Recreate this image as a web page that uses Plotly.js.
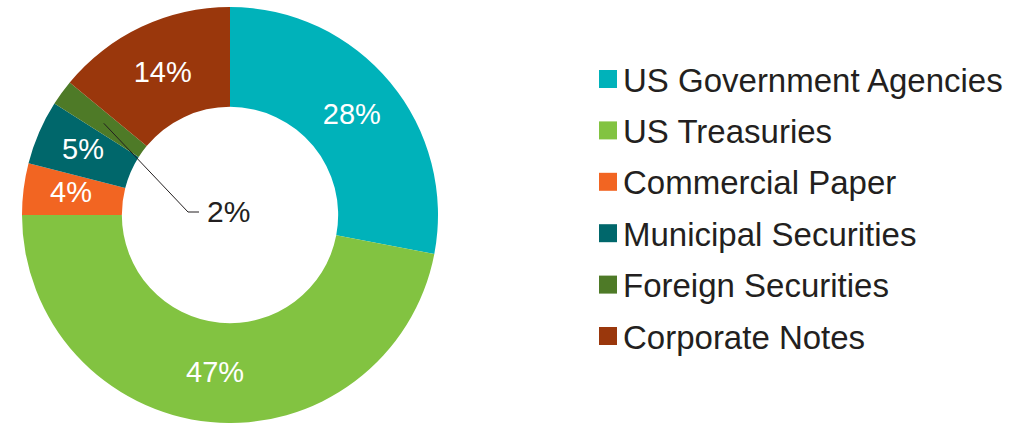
<!DOCTYPE html>
<html>
<head>
<meta charset="utf-8">
<script src="https://cdn.plot.ly/plotly-3.0.1.min.js"></script>
<style>
  html, body { margin: 0; padding: 0; background: #ffffff; }
  #chart { width: 1036px; height: 423px; }
</style>
</head>
<body>
<div id="chart"></div>
<script>
// ---- Data ----
const categories = ["US Government Agencies", "US Treasuries", "Commercial Paper", "Municipal Securities", "Foreign Securities", "Corporate Notes"];
const shares = [28, 47, 4, 5, 2, 14];
const sliceColors = ["#00B2BA", "#82C341", "#F26522", "#00676B", "#4E7A27", "#9A370C"];
const outsideLabelCategory = "Foreign Securities";
const narrowLabelCategories = ["Commercial Paper", "Municipal Securities"];

// ---- Geometry helpers (layout only) ----
const W = 1036, H = 423;
const cx = 230, cy = 215, R = 208, HOLE = 0.52;
const px = x => x / W;
const py = y => 1 - y / H;
const FONT = "Liberation Sans, Arial, sans-serif";

const total = shares.reduce((a, b) => a + b, 0);
function midAngle(i) {
  const before = shares.slice(0, i).reduce((a, b) => a + b, 0);
  return (before + shares[i] / 2) / total * 2 * Math.PI;
}

const sliceText = shares.map((v, i) =>
  (categories[i] === outsideLabelCategory || narrowLabelCategories.includes(categories[i])) ? "" : v + "%");

const trace = {
  type: "pie",
  labels: categories,
  values: shares,
  text: sliceText,
  textinfo: "text",
  textposition: "inside",
  insidetextorientation: "horizontal",
  insidetextfont: { family: FONT, size: 29, color: "#ffffff" },
  hole: HOLE,
  sort: false,
  direction: "clockwise",
  rotation: 0,
  marker: { colors: sliceColors, line: { width: 0 } },
  showlegend: false,
  hoverinfo: "label+value",
  domain: { x: [px(cx - R), px(cx + R)], y: [py(cy + R), py(cy - R)] }
};

const shapes = [];
const annotations = [];

// Labels of narrow slices, placed at the slice mid-angle on the ring's mid-radius
const rMid = (R + HOLE * R) / 2;
narrowLabelCategories.forEach(c => {
  const i = categories.indexOf(c);
  const a = midAngle(i);
  annotations.push({
    xref: "paper", yref: "paper",
    x: px(cx + rMid * Math.sin(a) - 2), y: py(cy - rMid * Math.cos(a) - 3),
    xanchor: "center", yanchor: "middle", showarrow: false,
    text: shares[i] + "%",
    font: { family: FONT, size: 29, color: "#ffffff" }
  });
});

// Leader line for the smallest slice
const idx = categories.indexOf(outsideLabelCategory);
const ang = midAngle(idx);
const r0 = 0.75 * R;
const sx = cx + r0 * Math.sin(ang), sy = cy - r0 * Math.cos(ang);
const ex = 188, ey = 212, hx = 199;
shapes.push({
  type: "path", xref: "paper", yref: "paper",
  path: `M ${px(sx)} ${py(sy)} L ${px(ex)} ${py(ey)} L ${px(hx)} ${py(ey)}`,
  line: { color: "#231F20", width: 1 }
});
annotations.push({
  xref: "paper", yref: "paper", x: px(205), y: py(212),
  xanchor: "left", yanchor: "middle", showarrow: false,
  text: shares[idx] + "%",
  font: { family: FONT, size: 30, color: "#231F20" }
});

// Custom legend
const legX = 599, legSize = 18, legTop = 79, legStep = 51.4;
categories.forEach((c, i) => {
  const yc = legTop + i * legStep;
  shapes.push({
    type: "rect", xref: "paper", yref: "paper",
    x0: px(legX), x1: px(legX + legSize), y0: py(yc + legSize / 2), y1: py(yc - legSize / 2),
    fillcolor: sliceColors[i], line: { width: 0 }
  });
  annotations.push({
    xref: "paper", yref: "paper", x: px(621), y: py(yc + 1),
    xanchor: "left", yanchor: "middle", showarrow: false,
    text: c,
    font: { family: FONT, size: 33, color: "#231F20" }
  });
});

const layout = {
  width: W, height: H,
  margin: { l: 0, r: 0, t: 0, b: 0 },
  paper_bgcolor: "#ffffff",
  showlegend: false,
  shapes: shapes,
  annotations: annotations
};

Plotly.newPlot("chart", [trace], layout, { displayModeBar: false, staticPlot: true });
</script>
</body>
</html>
